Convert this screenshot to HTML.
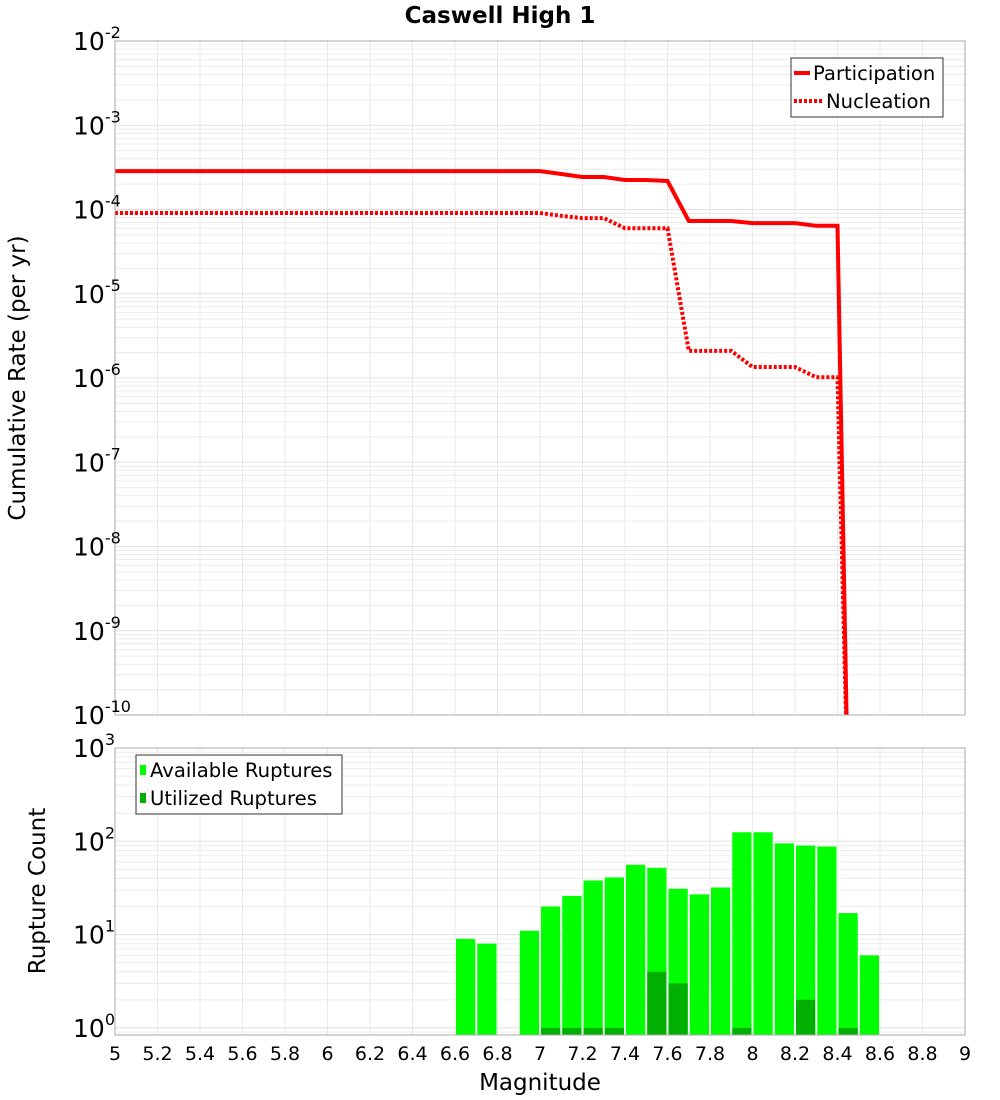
<!DOCTYPE html>
<html><head><meta charset="utf-8"><style>
body{margin:0;background:#fff}
svg{display:block;font-family:"DejaVu Sans","Liberation Sans",sans-serif}
</style></head><body>
<svg id="c" width="1000" height="1100" xmlns="http://www.w3.org/2000/svg">
<text x="500" y="23" text-anchor="middle" font-size="23" font-weight="bold">Caswell High 1</text>
<g id="topPlot"></g>
<g id="botPlot"></g>
<text transform="translate(25,378) rotate(-90)" text-anchor="middle" font-size="23">Cumulative Rate (per yr)</text>
<text transform="translate(45,891) rotate(-90)" text-anchor="middle" font-size="23">Rupture Count</text>
<text x="540" y="1090" text-anchor="middle" font-size="23">Magnitude</text>
<g>
<rect x="791" y="58" width="152" height="59" fill="#fff" stroke="#333" stroke-width="1"/>
<line x1="794" y1="73" x2="810" y2="73" stroke="#f00" stroke-width="4"/>
<text x="813" y="80" font-size="19.6">Participation</text>
<line x1="794" y1="101" x2="822" y2="101" stroke="#f00" stroke-width="4" stroke-dasharray="3,2"/>
<text x="826" y="108" font-size="19.6">Nucleation</text>
</g>
<g>
<rect x="136" y="755" width="206" height="59" fill="#fff" stroke="#333" stroke-width="1"/>
<rect x="140" y="765" width="6" height="10" fill="#00ff00"/>
<text x="150" y="777" font-size="19.6">Available Ruptures</text>
<rect x="140" y="793" width="6" height="10" fill="#00b000"/>
<text x="150" y="805" font-size="19.6">Utilized Ruptures</text>
</g>
</svg>
<script>
const magPoints=[5,5.1,5.2,5.3,5.4,5.5,5.6,5.7,5.8,5.9,6,6.1,6.2,6.3,6.4,6.5,6.6,6.7,6.8,6.9,7,7.1,7.2,7.3,7.4,7.5,7.6,7.7,7.8,7.9,8,8.1,8.2,8.3,8.4,8.45];
const participation=[2.86e-4,2.86e-4,2.86e-4,2.86e-4,2.86e-4,2.86e-4,2.86e-4,2.86e-4,2.86e-4,2.86e-4,2.86e-4,2.86e-4,2.86e-4,2.86e-4,2.86e-4,2.86e-4,2.86e-4,2.86e-4,2.86e-4,2.86e-4,2.86e-4,2.64e-4,2.43e-4,2.43e-4,2.24e-4,2.24e-4,2.18e-4,7.3e-5,7.3e-5,7.3e-5,6.9e-5,6.9e-5,6.9e-5,6.4e-5,6.4e-5,1e-11];
const nucleation=[9.1e-5,9.1e-5,9.1e-5,9.1e-5,9.1e-5,9.1e-5,9.1e-5,9.1e-5,9.1e-5,9.1e-5,9.1e-5,9.1e-5,9.1e-5,9.1e-5,9.1e-5,9.1e-5,9.1e-5,9.1e-5,9.1e-5,9.1e-5,9.1e-5,8.4e-5,7.9e-5,7.9e-5,6.0e-5,6.0e-5,6.0e-5,2.1e-6,2.1e-6,2.1e-6,1.35e-6,1.35e-6,1.35e-6,1.02e-6,1.02e-6,1e-11];
const binStarts=[6.6,6.7,6.9,7.0,7.1,7.2,7.3,7.4,7.5,7.6,7.7,7.8,7.9,8.0,8.1,8.2,8.3,8.4,8.5];
const available=[9,8,11,20,26,38,41,56,52,31,27,32,125,125,95,90,88,17,6];
const utilized=[0,0,0,1,1,1,1,0,4,3,0,0,1,0,0,2,0,1,0];
const xTicks=[5,5.2,5.4,5.6,5.8,6,6.2,6.4,6.6,6.8,7,7.2,7.4,7.6,7.8,8,8.2,8.4,8.6,8.8,9];
const topExps=[-2,-3,-4,-5,-6,-7,-8,-9,-10];
const botExps=[3,2,1,0];

const NS="http://www.w3.org/2000/svg";
const L=115,R=965;
const X=m=>L+(m-5)/4*(R-L);
const T0=41,T1=715; const Yt=v=>T0+(-2-Math.log10(v))/8*(T1-T0);
const B0=748,BD=93.3; const Yb=v=>B0+(3-Math.log10(v))*BD; const B1=1035;
function mk(p,tag,a){const e=document.createElementNS(NS,tag);for(const k in a)e.setAttribute(k,a[k]);p.appendChild(e);return e;}
const gTop=document.getElementById('topPlot'),gBot=document.getElementById('botPlot');

function grid(g,y0,y1,yf,decs){
  for(let m=5;m<=9.001;m+=0.2){const l=mk(g,'line',{x1:X(m),x2:X(m),y1:y0,y2:y1,stroke:'#e8e8e8'});
  
  }
  decs.forEach(d=>{for(let k=1;k<10;k++){const y=yf(k*Math.pow(10,d));if(y<y0-0.5||y>y1+0.5)continue;
    const l=mk(g,'line',{x1:L,x2:R,y1:y,y2:y,stroke:k==1?'#e0e0e0':'#ececec'});
    
    }});
}
grid(gTop,T0,T1,Yt,[-10,-9,-8,-7,-6,-5,-4,-3,-2]);
grid(gBot,B0,B1,Yb,[-1,0,1,2]);

const bw=X(5.1)-X(5)-2;
binStarts.forEach((m,i)=>{
  const a=mk(gBot,'rect',{x:X(m)+1,y:Yb(available[i]),width:bw,height:B1-Yb(available[i]),fill:'#00ff00'});
  
  
  if(utilized[i]>0){const u=mk(gBot,'rect',{x:X(m)+1,y:Yb(utilized[i]),width:bw,height:B1-Yb(utilized[i]),fill:'#00b000'});
  
  }
});

const clip=mk(gTop,'clipPath',{id:'cp'});mk(clip,'rect',{x:L,y:T0,width:R-L,height:T1-T0});
function line(vals,dash,name){
  const d=vals.map((v,i)=>(i?'L':'M')+X(magPoints[i]).toFixed(1)+','+Yt(v).toFixed(1)).join('');
  const p=mk(gTop,'path',{d,fill:'none',stroke:'#f00','stroke-width':4,'clip-path':'url(#cp)'});
  if(dash)p.setAttribute('stroke-dasharray','3,2');
  
  
}
line(nucleation,true,'nucleation-line');
line(participation,false,'participation-line');

mk(gTop,'rect',{x:L,y:T0,width:R-L,height:T1-T0,fill:'none',stroke:'#aaa'});
mk(gBot,'rect',{x:L,y:B0,width:R-L,height:B1-B0,fill:'none',stroke:'#aaa'});

function ylab(g,y,e,name){
  const t=mk(g,'text',{x:73,y:y+9,'text-anchor':'start','font-size':25});
  t.textContent='10';
  const s=mk(t,'tspan',{dy:-12,'font-size':16});s.textContent=e;
  
  
}
topExps.forEach(e=>ylab(gTop,Yt(Math.pow(10,e)),e,'y-tick-label-rate'));
botExps.forEach(e=>ylab(gBot,Yb(Math.pow(10,e)),e,'y-tick-label-count'));
xTicks.forEach(m=>{const t=mk(gBot,'text',{x:X(m),y:1060,'text-anchor':'middle','font-size':19});
  t.textContent=String(m);
  
  });
</script>
</body></html>
